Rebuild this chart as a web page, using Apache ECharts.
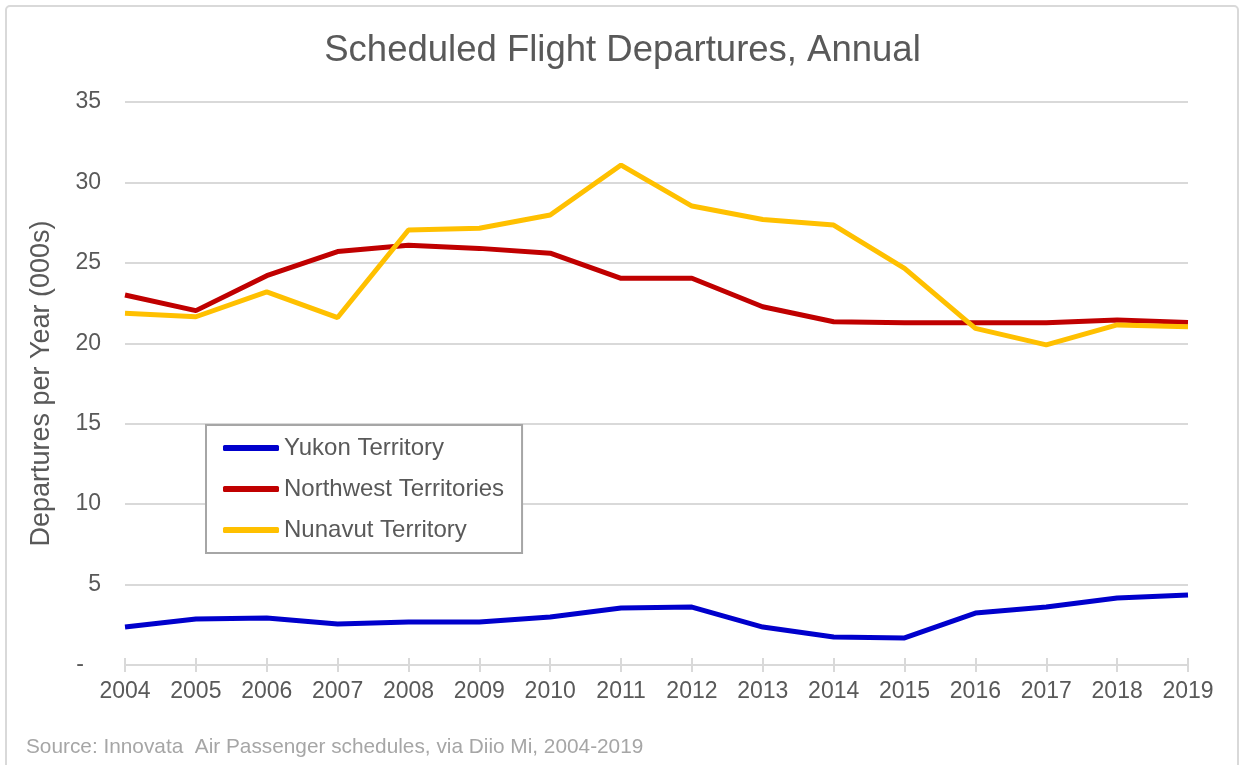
<!DOCTYPE html>
<html>
<head>
<meta charset="utf-8">
<script src="https://cdn.jsdelivr.net/npm/echarts@6/dist/echarts.min.js"></script>
<style>
html,body{margin:0;padding:0;background:#fff;}
#chart{width:1245px;height:765px;}
</style>
</head>
<body>
<div id="chart"></div>
<script>
var years = ['2004','2005','2006','2007','2008','2009','2010','2011','2012','2013','2014','2015','2016','2017','2018','2019'];
var yukon = [2.36, 2.86, 2.92, 2.55, 2.67, 2.67, 2.98, 3.54, 3.6, 2.36, 1.74, 1.68, 3.23, 3.6, 4.17, 4.35];
var northwest = [23.0, 22.03, 24.2, 25.7, 26.1, 25.9, 25.6, 24.04, 24.04, 22.27, 21.34, 21.28, 21.28, 21.28, 21.45, 21.3];
var nunavut = [21.86, 21.65, 23.2, 21.6, 27.04, 27.15, 27.97, 31.08, 28.53, 27.7, 27.35, 24.66, 20.93, 19.9, 21.14, 21.03];
var seriesNames = ['Yukon Territory', 'Northwest Territories', 'Nunavut Territory'];
var yTicks = {min: 0, max: 35, interval: 5};

var FONT = '"Liberation Sans", Arial, sans-serif';
var chart = echarts.init(document.getElementById('chart'), null, {renderer: 'canvas'});
chart.setOption({
  backgroundColor: '#ffffff',
  animation: false,
  title: {
    text: 'Scheduled Flight Departures, Annual',
    left: 'center',
    top: 27,
    textStyle: {fontFamily: FONT, fontSize: 36.5, fontWeight: 'normal', color: '#595959'}
  },
  graphic: [
    {type: 'rect', shape: {x: 6, y: 6, width: 1232, height: 770, r: 4}, style: {fill: 'none', stroke: '#d9d9d9', lineWidth: 2}, silent: true, z: -1},
    {type: 'text', left: 26, top: 737, style: {text: 'Source: Innovata  Air Passenger schedules, via Diio Mi, 2004-2019', fontFamily: FONT, fontSize: 20.8, fill: '#a6a6a6'}}
  ],
  legend: {
    orient: 'vertical',
    left: 206,
    top: 425,
    padding: [11, 18, 11, 17],
    itemGap: 17,
    itemWidth: 56,
    itemHeight: 6,
    icon: 'roundRect',
    borderColor: '#a6a6a6',
    borderWidth: 2,
    backgroundColor: '#ffffff',
    data: seriesNames,
    textStyle: {fontFamily: FONT, fontSize: 24, lineHeight: 24, color: '#595959', padding: [0, 0, 0, 0]}
  },
  grid: {left: 125, right: 57, top: 102, bottom: 100, containLabel: false},
  xAxis: [
    {
      type: 'category',
      data: years,
      boundaryGap: false,
      axisLine: {show: true, lineStyle: {color: '#d9d9d9', width: 2}},
      axisTick: {show: true, length: 7, lineStyle: {color: '#d9d9d9', width: 2}},
      axisLabel: {margin: 15, fontFamily: FONT, fontSize: 23, color: '#595959'}
    },
    {
      type: 'category',
      data: years,
      boundaryGap: false,
      position: 'bottom',
      offset: 0,
      axisLine: {show: false},
      axisTick: {show: true, inside: true, length: 7, lineStyle: {color: '#d9d9d9', width: 2}},
      axisLabel: {show: false}
    }
  ],
  yAxis: {
    type: 'value',
    min: yTicks.min,
    max: yTicks.max,
    interval: yTicks.interval,
    name: 'Departures per Year (000s)',
    nameLocation: 'middle',
    nameGap: 70,
    nameTextStyle: {fontFamily: FONT, fontSize: 27, color: '#595959'},
    axisLine: {show: false},
    axisTick: {show: false},
    splitLine: {show: true, lineStyle: {color: '#d9d9d9', width: 2}},
    axisLabel: {
      margin: 24,
      fontFamily: FONT, fontSize: 23, color: '#595959',
      formatter: function (v) { return v === 0 ? '{d|-}' : String(v); },
      rich: {d: {fontFamily: FONT, fontSize: 23, color: '#595959', padding: [0, 17, 0, 0]}}
    }
  },
  series: [
    {name: seriesNames[0], type: 'line', data: yukon, showSymbol: false, symbol: 'none', lineStyle: {color: '#0000CC', width: 5}, itemStyle: {color: '#0000CC'}},
    {name: seriesNames[1], type: 'line', data: northwest, showSymbol: false, symbol: 'none', lineStyle: {color: '#C00000', width: 5}, itemStyle: {color: '#C00000'}},
    {name: seriesNames[2], type: 'line', data: nunavut, showSymbol: false, symbol: 'none', lineStyle: {color: '#FFC000', width: 5}, itemStyle: {color: '#FFC000'}}
  ]
});
</script>
</body>
</html>
